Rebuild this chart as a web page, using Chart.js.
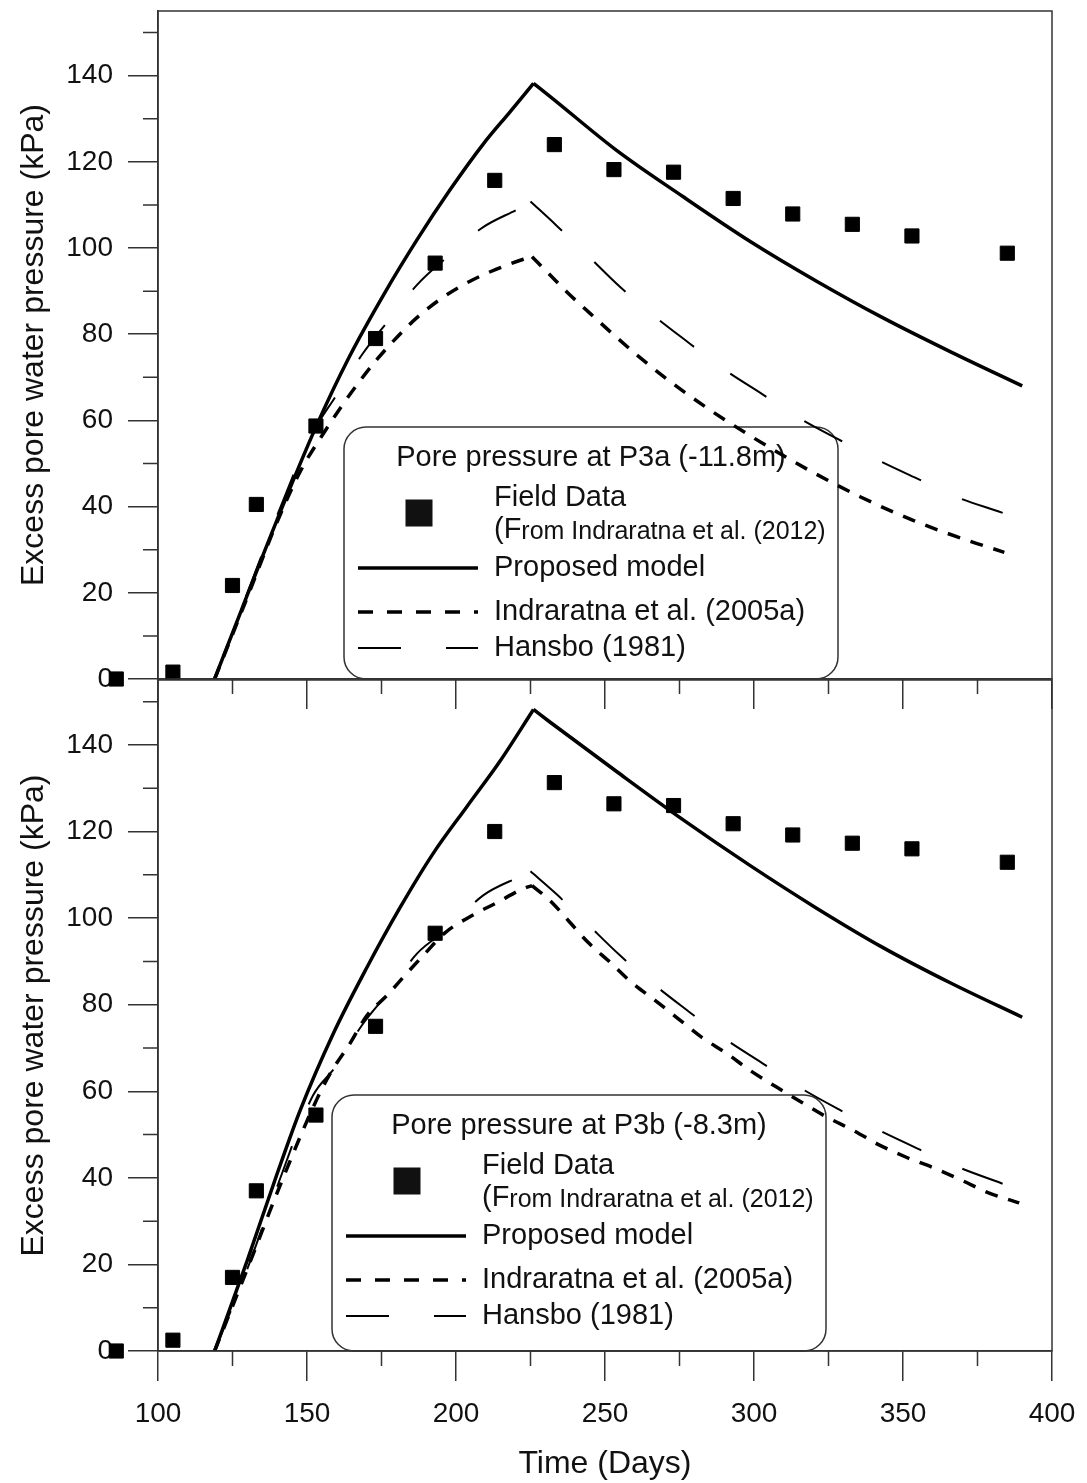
<!DOCTYPE html>
<html>
<head>
<meta charset="utf-8">
<script src="https://cdn.jsdelivr.net/npm/chart.js@4.4.0/dist/chart.umd.min.js"></script>
<style>
body { margin: 0; background: #fff; }
#wrap { position: relative; width: 1087px; height: 1483px; }
canvas { position: absolute; left: 0; }
</style>
</head>
<body>
<div id="wrap">
  <canvas id="panelB" width="1087" height="814" style="top:669px"></canvas>
  <canvas id="panelA" width="1087" height="720" style="top:0px"></canvas>
</div>
<script>
// field data (squares)
const fieldDays = [86, 105, 125, 133, 153, 173, 193, 213, 233, 253, 273, 293, 313, 333, 353, 385];
const fieldP3a = [0, 1.6, 21.7, 40.5, 58.7, 79, 96.5, 115.7, 124, 118.2, 117.6, 111.5, 107.9, 105.5, 102.8, 98.8];
const fieldP3b = [0, 2.5, 17, 37, 54.5, 75, 96.5, 120, 131.3, 126.4, 126, 121.8, 119.2, 117.3, 116, 112.9];

// proposed model
const modelDaysA = [119, 128, 140, 153, 164, 176, 187, 198, 209, 218, 226, 231.5, 254, 276, 299, 321, 343, 366, 390];
const modelP3a = [0, 16, 37, 58.5, 74.5, 89.5, 102, 113.5, 124, 131.5, 138.2, 135.2, 122.6, 112, 101.4, 92.3, 83.9, 75.9, 68];
const modelDaysB = [119, 130, 140, 147.7, 158.8, 170.1, 181.2, 192.3, 203.7, 214.8, 226, 231.5, 254, 276, 299, 321, 343, 366, 390];
const modelP3b = [0, 21, 41, 55.6, 73.3, 88.6, 102.4, 114.9, 125.8, 136.3, 148.2, 145.3, 133.8, 122.8, 112, 102.3, 93.3, 85, 77.1];

// Indraratna et al. (2005a)
const indrDaysA = [119, 130, 140, 148, 156, 161.6, 167.8, 173.4, 180.6, 186.8, 195.7, 204.7, 213.6, 222.6, 225.5, 231.5, 237.2, 244.9, 252.7, 260.7, 268.5, 276.2, 284.2, 291.9, 305, 317.8, 335.6, 353.4, 371.5, 384];
const indrP3a = [0, 19, 36.5, 48.5, 57.5, 63.3, 69.2, 74.1, 79.6, 83.8, 88.6, 92.3, 95.1, 97.4, 98, 93.8, 89.8, 84.9, 80, 75.2, 70.8, 66.8, 62.9, 59.4, 53.8, 48.7, 42.3, 36.8, 32.2, 29.4];
const indrDaysB = [119, 130, 142, 153.4, 158.4, 164.4, 170.1, 176.8, 182.9, 189.6, 196.3, 205.4, 213.8, 222.5, 225.5, 231.5, 237.6, 244.3, 251.7, 259, 266.8, 274.5, 282.6, 290.9, 298.7, 307.7, 316.1, 324.5, 333.2, 342.3, 351.3, 360.7, 369.8, 378.5, 389];
const indrP3b = [0, 19, 40, 58.3, 64.8, 71, 77.5, 82.1, 86.8, 91.8, 96.6, 100.6, 103.6, 106.8, 107.5, 104.1, 99.5, 94.4, 89.8, 85.1, 81, 76.8, 72.4, 68.7, 64.8, 60.9, 57.4, 54, 51, 47.5, 44.7, 42.2, 39.4, 36.6, 34.2];

// Hansbo (1981)
const hansDaysA = [119, 130, 140, 151, 160, 168.5, 177, 187, 197, 209, 222, 225, 233.6, 244, 255, 266, 278.5, 289.6, 303, 314.8, 328.9, 341.6, 355.7, 368.8, 383.2, 389.5];
const hansP3a = [0, 20, 38, 56, 66, 75.3, 82.9, 91.5, 97.9, 104.8, 109.5, 110.8, 105.3, 98.4, 91, 84.5, 77.8, 72, 66, 60.7, 55.4, 50.8, 46.2, 42, 38.6, 37];
const hansDaysB = [119, 130, 140, 152, 159.4, 168.8, 177.2, 186.9, 198, 209, 222.1, 225, 233.6, 244, 255, 266, 278.5, 289.6, 303, 314.8, 328.5, 341.3, 355.7, 368.8, 383.2, 389.3];
const hansP3b = [0, 19, 38, 59, 65.5, 75.6, 82.8, 91.8, 97.9, 105.2, 109.8, 110.8, 105.6, 98.7, 91.4, 84.9, 78.2, 72.4, 66.4, 61.1, 55.8, 51.2, 46.5, 42.4, 38.7, 37.1];

const yMinorTicks = [10, 30, 50, 70, 90, 110, 130, 150];
const xMinorTicks = [125, 175, 225, 275, 325, 375];

const FONT = '"Liberation Sans", Arial, sans-serif';
const INK = '#111';
const AXIS = '#333';

const pts = (xs, ys) => xs.map((x, i) => ({ x: x, y: ys[i] }));

// rise and decay are smoothed separately so the peak stays sharp
function partir(xs, ys) {
    const k = ys.indexOf(Math.max(...ys));
    return [pts(xs.slice(0, k + 1), ys.slice(0, k + 1)), pts(xs.slice(k), ys.slice(k))];
}

// outer frame + short minor ticks + field points that fall left of the axis
const frameTicks = {
    id: 'frameTicks',
    afterDraw(chart) {
        const { ctx, chartArea: a, scales } = chart;
        ctx.save();
        ctx.strokeStyle = AXIS;
        ctx.lineWidth = 1.5;
        ctx.strokeRect(a.left, a.top, a.right - a.left, a.bottom - a.top);
        ctx.beginPath();
        yMinorTicks.forEach(v => {
            const y = scales.y.getPixelForValue(v);
            ctx.moveTo(a.left - 15, y);
            ctx.lineTo(a.left, y);
        });
        xMinorTicks.forEach(v => {
            const x = scales.x.getPixelForValue(v);
            ctx.moveTo(x, a.bottom);
            ctx.lineTo(x, a.bottom + 15);
        });
        ctx.stroke();
        ctx.restore();
        chart.getDatasetMeta(0).data.forEach(el => {
            if (el.x < a.left) el.draw(ctx);
        });
    }
};

// rounded legend box, drawn under the curves
const legendBox = {
    id: 'legendBox',
    beforeDatasetsDraw(chart, args, o) {
        const ctx = chart.ctx;
        const { x, y, w, h } = o.box;
        const ds = chart.data.datasets;
        ctx.save();
        ctx.strokeStyle = AXIS;
        ctx.lineWidth = 1.5;
        ctx.beginPath();
        ctx.roundRect(x, y, w, h, 22);
        ctx.stroke();

        ctx.fillStyle = INK;
        ctx.textBaseline = 'middle';
        ctx.font = '29px ' + FONT;
        ctx.textAlign = 'center';
        ctx.fillText(o.title, x + w / 2, y + 31);

        ctx.textAlign = 'left';
        const tx = x + 150;
        ctx.fillRect(x + 75 - 13.5, y + 86 - 13.5, 27, 27);
        ctx.fillText(ds[0].label, tx, y + 71);
        ctx.fillText('(F', tx, y + 103);
        const fw = ctx.measureText('(F').width;
        ctx.font = '25px ' + FONT;
        ctx.fillText('rom Indraratna et al. (2012)', tx + fw, y + 105);
        ctx.font = '29px ' + FONT;

        const rows = [y + 141, y + 185, y + 221];
        const dashes = [[], [15, 14], [43, 45]];
        [1, 3, 5].forEach((k, i) => {
            ctx.save();
            ctx.strokeStyle = '#000';
            ctx.lineWidth = ds[k].borderWidth;
            ctx.setLineDash(dashes[i]);
            ctx.beginPath();
            ctx.moveTo(x + 14, rows[i]);
            ctx.lineTo(x + 134, rows[i]);
            ctx.stroke();
            ctx.restore();
            ctx.fillText(ds[k].label, tx, rows[i]);
        });
        ctx.restore();
    }
};

function curva(label, data, width, dash) {
    return {
        label: label,
        data: data,
        showLine: true,
        borderColor: '#000',
        borderWidth: width,
        borderDash: dash,
        pointRadius: 0,
        cubicInterpolationMode: 'monotone'
    };
}

function crearPanel(id, field, model, indr, hans, cfg) {
    const ctx = document.getElementById(id).getContext('2d');
    return new Chart(ctx, {
        type: 'scatter',
        data: {
            datasets: [
                {
                    label: 'Field Data',
                    data: field,
                    pointStyle: 'rect',
                    pointRadius: 10,
                    pointBackgroundColor: '#000',
                    pointBorderColor: '#000',
                    pointBorderWidth: 1,
                    clip: false
                },
                curva('Proposed model', model[0], 3.5, []),
                curva('Proposed model', model[1], 3.5, []),
                curva('Indraratna et al. (2005a)', indr[0], 3.5, [13, 11]),
                curva('Indraratna et al. (2005a)', indr[1], 3.5, [13, 11]),
                curva('Hansbo (1981)', hans[0], 2, [43, 45]),
                curva('Hansbo (1981)', hans[1], 2, [43, 45])
            ]
        },
        options: {
            responsive: false,
            animation: false,
            layout: { padding: { top: 10, right: 35, left: 0, bottom: 0 } },
            plugins: {
                legend: { display: false },
                tooltip: { enabled: false },
                legendBox: { box: cfg.box, title: cfg.title }
            },
            scales: {
                x: {
                    type: 'linear',
                    min: 100,
                    max: 400,
                    ticks: {
                        stepSize: 50,
                        padding: 16,
                        color: INK,
                        font: { family: FONT, size: 28 },
                        callback: v => (cfg.showX ? v : '')
                    },
                    grid: { drawOnChartArea: false, tickLength: 30, color: AXIS, lineWidth: 1.5 },
                    border: { color: AXIS, width: 1.5 },
                    title: {
                        display: cfg.showX,
                        text: 'Time (Days)',
                        color: INK,
                        font: { family: FONT, size: 32 },
                        padding: { top: 0, bottom: 0 }
                    },
                    afterFit: s => {
                        s.height = cfg.xHeight;
                        s.paddingLeft = 0;
                        s.paddingRight = 0;
                    }
                },
                y: {
                    min: 0,
                    max: 155,
                    ticks: {
                        stepSize: 20,
                        includeBounds: false,
                        padding: 15,
                        color: INK,
                        font: { family: FONT, size: 28 }
                    },
                    grid: { drawOnChartArea: false, tickLength: 30, color: AXIS, lineWidth: 1.5 },
                    border: { color: AXIS, width: 1.5 },
                    title: {
                        display: true,
                        text: 'Excess pore water pressure (kPa)',
                        color: INK,
                        font: { family: FONT, size: 32 },
                        padding: { top: 15, bottom: 0 }
                    },
                    afterFit: s => {
                        s.width = 158;
                        s.paddingTop = 0;
                        s.paddingBottom = 0;
                    }
                }
            }
        },
        plugins: [frameTicks, legendBox]
    });
}

crearPanel('panelA',
    pts(fieldDays, fieldP3a), partir(modelDaysA, modelP3a), partir(indrDaysA, indrP3a), partir(hansDaysA, hansP3a),
    { showX: false, xHeight: 41, title: 'Pore pressure at P3a (-11.8m)', box: { x: 344, y: 427, w: 494, h: 252 } });

crearPanel('panelB',
    pts(fieldDays, fieldP3b), partir(modelDaysB, modelP3b), partir(indrDaysB, indrP3b), partir(hansDaysB, hansP3b),
    { showX: true, xHeight: 132, title: 'Pore pressure at P3b (-8.3m)', box: { x: 332, y: 426, w: 494, h: 256 } });
</script>
</body>
</html>
